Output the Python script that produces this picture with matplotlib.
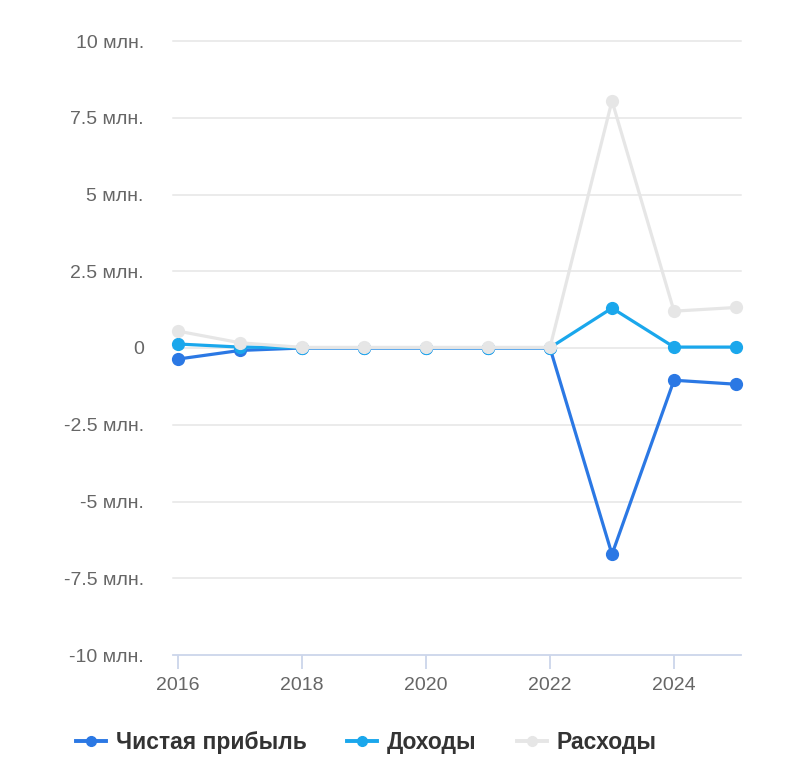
import matplotlib.pyplot as plt
from matplotlib.lines import Line2D

# data (millions)
years = [2016, 2017, 2018, 2019, 2020, 2021, 2022, 2023, 2024, 2025]
net_profit = [-0.36, -0.08, 0.0, 0.0, 0.0, 0.0, 0.0, -6.72, -1.05, -1.18]
revenue = [0.13, 0.03, 0.01, 0.01, 0.01, 0.01, 0.01, 1.30, 0.03, 0.03]
expenses = [0.55, 0.17, 0.02, 0.02, 0.02, 0.02, 0.02, 8.05, 1.20, 1.32]
series_names = ['Чистая прибыль', 'Доходы', 'Расходы']
series_colors = ['#2b78e4', '#1aa7ec', '#e6e6e6']

y_ticks = [-10, -7.5, -5, -2.5, 0, 2.5, 5, 7.5, 10]
y_labels = ['-10 млн.', '-7.5 млн.', '-5 млн.', '-2.5 млн.', '0',
            '2.5 млн.', '5 млн.', '7.5 млн.', '10 млн.']
x_ticks = [2016, 2018, 2020, 2022, 2024]

plt.rcParams['font.family'] = ['Liberation Sans', 'DejaVu Sans']

W, H = 800, 777
fig = plt.figure(figsize=(W / 100, H / 100), dpi=100)
ax = fig.add_axes([173 / W, 1 - 655 / H, (741 - 173) / W, (655 - 41) / H])

for vals, color in zip([net_profit, revenue, expenses], series_colors):
    ax.plot(years, vals, color=color, lw=2.3, marker='o', markersize=8.5,
            solid_capstyle='round', solid_joinstyle='round', zorder=3,
            clip_on=False)

ax.set_xlim(2016 - 5 / 62, 2016 + 563 / 62)
ax.set_ylim(-10, 10)

# gridlines
for t in y_ticks[1:]:
    ax.axhline(t, color='#e6e6e6', lw=1.1, zorder=1, clip_on=False)

for s in ['top', 'right', 'left']:
    ax.spines[s].set_visible(False)
ax.spines['bottom'].set_color('#ccd6eb')
ax.spines['bottom'].set_linewidth(1.3)

ax.set_yticks(y_ticks)
ax.set_yticklabels(y_labels)
ax.set_xticks(x_ticks)
ax.set_xticklabels([str(x) for x in x_ticks])
ax.tick_params(axis='y', length=0, pad=21, labelsize=14, labelcolor='#666666')
ax.tick_params(axis='x', length=10, width=1.3, color='#ccd6eb', pad=6,
               labelsize=14, labelcolor='#666666')

handles = [Line2D([0], [0], color=c, lw=2.8, marker='o', markersize=7)
           for c in series_colors]
fig.legend(handles, series_names, loc='center', bbox_to_anchor=(0.458, 0.044),
           ncol=3, frameon=False, handlelength=1.3, handletextpad=0.45,
           columnspacing=1.75,
           prop={'weight': 'bold', 'size': 16.5})
for txt in fig.legends[0].get_texts():
    txt.set_color('#333333')

fig.savefig('out.png', dpi=100)
